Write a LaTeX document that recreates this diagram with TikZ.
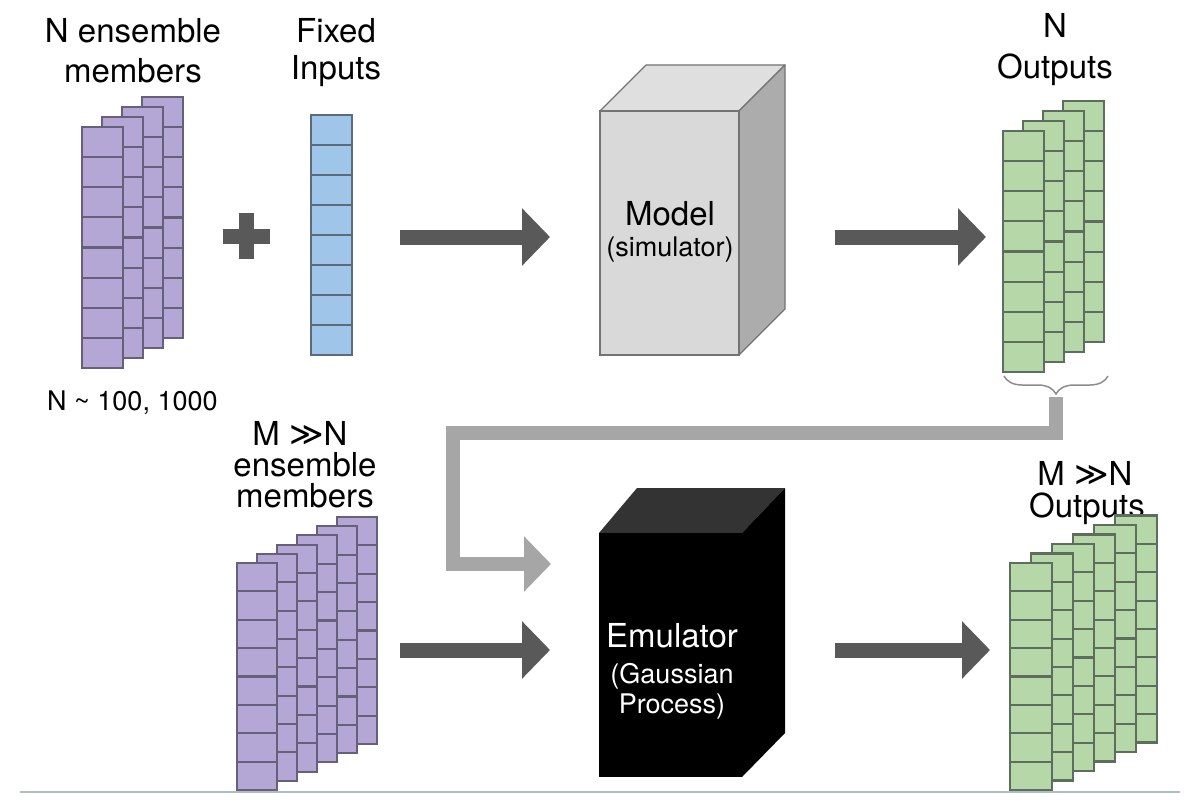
\documentclass[tikz,border=0pt]{standalone}
\usepackage{fontspec}
\setmainfont{TeX Gyre Heros}
\newfontfamily\symfont{DejaVu Sans}
\usetikzlibrary{arrows.meta,decorations.pathreplacing}
\definecolor{purfill}{HTML}{B4A7D6}
\definecolor{purline}{HTML}{66607A}
\definecolor{grnfill}{HTML}{B6D7A8}
\definecolor{grnline}{HTML}{5E6E5E}
\definecolor{blufill}{HTML}{9FC5E8}
\definecolor{bluline}{HTML}{5B6B7B}
\definecolor{darkarrow}{HTML}{595959}
\definecolor{lightarrow}{HTML}{A6A6A6}
\definecolor{bracecol}{HTML}{8C8C8C}
\definecolor{basecol}{HTML}{AEBEC3}
\newcommand{\sheetstack}[8]{%
  \foreach \i in {#5} {%
    \pgfmathsetmacro\sx{#1+#6*\i}%
    \pgfmathsetmacro\sy{#2+#7*\i}%
    \draw[#8] (\sx,\sy) rectangle ++(#3,#4);
    \foreach \k in {1,...,7} {\draw[#8,fill=none] (\sx,\sy+#4*\k/8) -- ++(#3,0);}
  }%
}
\tikzset{
  pursheet/.style={fill=purfill,draw=purline,line width=2.1pt},
  grnsheet/.style={fill=grnfill,draw=grnline,line width=2.1pt},
  blusheet/.style={fill=blufill,draw=bluline,line width=1.5pt},
  fat/.style={draw=darkarrow,line width=15pt,-{Triangle[length=28pt,width=56pt,fill=darkarrow]}},
  graypath/.style={draw=lightarrow,line width=14pt,line join=miter,-{Triangle[length=27pt,width=54pt,fill=lightarrow]}},
  lbl/.style={anchor=base,inner sep=0pt,font=\fontsize{33}{38}\selectfont},
  sublbl/.style={anchor=base,inner sep=0pt,font=\fontsize{27}{31}\selectfont},
}
\begin{document}
\begin{tikzpicture}[x=1pt,y=-1pt]
\useasboundingbox (0,0) rectangle (1200,800);
% labels
\node[lbl] (l1a) at (133,43) {N ensemble};
\node[lbl] (l1b) at (133,82) {members};
\node[lbl] (l2a) at (336,43) {Fixed};
\node[lbl] (l2b) at (336,80) {Inputs};
\node[lbl] (l3a) at (1055,38) {N};
\node[lbl] (l3b) at (1055,78) {Outputs};
\node[anchor=base west,inner sep=0pt,font=\fontsize{27}{30}\selectfont] (nnum) at (47,410) {N \textasciitilde{} 100, 1000};
\node[lbl] (l4a) at (300,445) {M {\symfont ≫}N};
\node[lbl] (l4b) at (305,476) {ensemble};
\node[lbl] (l4c) at (305,507) {members};
\node[lbl] (l5a) at (1085,485) {M {\symfont ≫}N};
\node[lbl] (l5b) at (1087,517) {Outputs};
% top-left ensemble stack
\sheetstack{82}{127}{41}{241}{3,2,1,0}{20}{-10}{pursheet}
\coordinate (ens) at (120,240);
% plus sign
\fill[darkarrow] (239,213) rectangle (254,259);
\fill[darkarrow] (223,228.5) rectangle (270,243.5);
% fixed inputs
\sheetstack{311}{115}{41}{240}{0}{0}{0}{blusheet}
% model box
\fill[gray!25,draw=gray!110,line width=1.2pt,line join=round] (600,111) -- (646,65) -- (785,65) -- (739,111) -- cycle;
\fill[gray!65,draw=gray!110,line width=1.2pt,line join=round] (739,111) -- (785,65) -- (785,309) -- (739,355) -- cycle;
\filldraw[fill=gray!30,draw=gray!110,line width=1.2pt] (600,111) rectangle (739,355);
\node[lbl] (model) at (670,225) {Model};
\node[sublbl] (sim) at (670,256) {(simulator)};
% top output stack
\sheetstack{1003}{131}{41}{241}{3,2,1,0}{20}{-10}{grnsheet}
\draw[bracecol,line width=1.5pt,decorate,decoration={brace,amplitude=18pt,mirror,aspect=0.5}] (1004,376) -- (1108,376);
\coordinate (bracetip) at (1056,397);
% top arrows
\coordinate (a1s) at (400,237); \coordinate (a1e) at (550,237);
\coordinate (a2s) at (835,237); \coordinate (a2e) at (986,237);
\draw[fat] (a1s) -- (a1e);
\draw[fat] (a2s) -- (a2e);
% feedback connector
\coordinate (gend) at (551,564);
\draw[graypath] (bracetip) -- (1056,433) -- (453,433) -- (453,564) -- (gend);
% bottom ensemble stack
\sheetstack{237}{563}{40}{227}{5,4,3,2,1,0}{20}{-9.2}{pursheet}
% emulator box
\fill[black!80] (599,533) -- (637,488) -- (785,488) -- (742,533) -- cycle;
\fill[black] (742,533) -- (785,488) -- (785,733) -- (742,777) -- cycle;
\fill[black] (599,533) rectangle (742,777);
\node[lbl,text=white] (emu) at (672,647) {Emulator};
\node[sublbl,text=white] (gp1) at (672,683) {(Gaussian};
\node[sublbl,text=white] (gp2) at (672,713) {Process)};
% bottom arrows
\coordinate (b1s) at (400,650); \coordinate (b1e) at (550,650);
\coordinate (b2s) at (835,650); \coordinate (b2e) at (990,650);
\draw[fat] (b1s) -- (b1e);
\draw[fat] (b2s) -- (b2e);
% bottom output stack
\sheetstack{1010}{563}{42}{227}{5,4,3,2,1,0}{21}{-9.5}{grnsheet}
% base line
\draw[basecol,line width=1.5pt] (20,792) -- (1180,792);
\end{tikzpicture}
\end{document}
